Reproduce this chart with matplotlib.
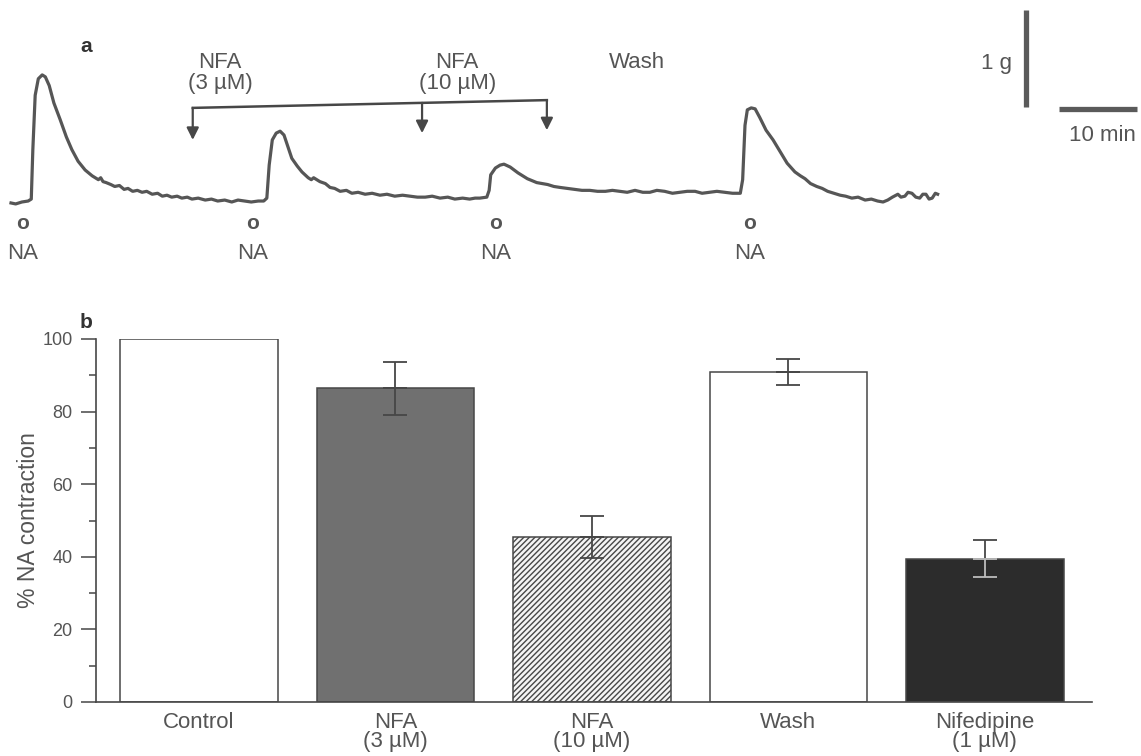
import matplotlib.pyplot as plt

plt.rcParams['font.family'] = ['Liberation Sans', 'DejaVu Sans']

# panel a: tension trace, time in min, tension above baseline in g
trace_t = [0.0, 0.6, 1.4, 2.2, 2.6, 2.8, 3.1, 3.5, 4.0, 4.4, 4.9, 5.5, 6.3, 7.1, 7.8, 8.6,
           9.5, 10.4, 11.2, 11.5, 11.8, 12.2, 12.8, 13.3, 13.9, 14.5, 15.0, 15.6, 16.2,
           16.8, 17.4, 18.1, 18.8, 19.4, 20.0, 20.6, 21.3, 21.9, 22.6, 23.2, 24.0, 24.9,
           25.7, 26.5, 27.4, 28.3, 29.1, 30.0, 30.8, 31.7, 32.4,
           32.8, 33.1, 33.5, 34.0, 34.5, 35.0, 35.5, 36.0, 36.7, 37.3, 38.1, 38.5, 38.8,
           39.6, 40.3, 40.9, 41.5, 42.2, 43.0, 43.7, 44.5, 45.4, 46.3, 47.3, 48.2, 49.2,
           50.2, 51.2, 52.1, 53.1, 54.0, 55.0, 56.0, 56.9, 57.9, 58.8, 59.5, 60.1, 61.0,
           61.3, 61.5, 62.1, 62.7, 63.2, 64.0, 65.0, 65.6, 66.2, 67.4, 68.1, 68.8, 69.6,
           70.4, 71.3, 72.3, 73.2, 74.2, 75.2, 76.2, 77.1, 78.1, 79.0, 80.0, 81.0, 81.9,
           82.8, 83.8, 84.8, 85.8, 86.7, 87.7, 88.6, 89.6, 90.5, 91.5, 92.5, 93.5,
           93.8, 94.1, 94.4, 94.9, 95.4, 96.0, 96.8, 97.7, 98.6, 99.5, 100.5, 101.2, 101.8,
           102.5, 103.3, 104.0, 104.7, 105.5, 106.3, 107.0, 107.8, 108.6, 109.5, 110.3,
           111.1, 111.8, 112.4, 113.0, 113.7, 114.1, 114.6, 115.0, 115.5, 116.0, 116.5,
           116.9, 117.3, 117.7, 118.1, 118.5, 118.8]
trace_g = [-0.01, -0.02, 0.00, 0.01, 0.03, 0.54, 1.10, 1.27, 1.31, 1.29, 1.20, 1.02, 0.85,
           0.67, 0.54, 0.42, 0.33, 0.27, 0.23, 0.25, 0.21, 0.20, 0.18, 0.16, 0.17, 0.13,
           0.14, 0.11, 0.12, 0.10, 0.11, 0.08, 0.09, 0.06, 0.07, 0.05, 0.06, 0.04, 0.05,
           0.03, 0.04, 0.02, 0.03, 0.01, 0.02, 0.00, 0.02, 0.01, 0.00, 0.01, 0.01,
           0.04, 0.38, 0.64, 0.71, 0.73, 0.69, 0.57, 0.45, 0.37, 0.31, 0.25, 0.23, 0.25,
           0.21, 0.19, 0.15, 0.14, 0.11, 0.12, 0.09, 0.10, 0.08, 0.09, 0.07, 0.08, 0.06,
           0.07, 0.06, 0.05, 0.05, 0.06, 0.04, 0.05, 0.03, 0.04, 0.03, 0.04, 0.04, 0.05,
           0.12, 0.28, 0.35, 0.38, 0.39, 0.36, 0.30, 0.27, 0.24, 0.20, 0.19, 0.18, 0.16,
           0.15, 0.14, 0.13, 0.12, 0.12, 0.11, 0.11, 0.12, 0.11, 0.10, 0.12, 0.10, 0.10,
           0.12, 0.11, 0.09, 0.10, 0.11, 0.11, 0.09, 0.10, 0.11, 0.10, 0.09, 0.09,
           0.23, 0.79, 0.95, 0.97, 0.96, 0.87, 0.74, 0.64, 0.52, 0.40, 0.31, 0.27, 0.24,
           0.19, 0.16, 0.14, 0.11, 0.09, 0.07, 0.06, 0.04, 0.05, 0.02, 0.03,
           0.01, 0.00, 0.02, 0.05, 0.08, 0.05, 0.06, 0.10, 0.09, 0.05, 0.04,
           0.08, 0.08, 0.03, 0.04, 0.09, 0.08]
na_times = [1.5, 31.0, 62.1, 94.7]
drug_times = [23.3, 52.7, 68.7]
drug_names = ["NFA", "NFA", "Wash"]
drug_conc = ["(3 µM)", "(10 µM)", ""]
drug_label_t = [26.8, 57.2, 80.3]

# panel b: % of NA contraction, mean and s.e.mean
conditions = ["Control", "NFA\n(3 µM)", "NFA\n(10 µM)", "Wash", "Nifedipine\n(1 µM)"]
contraction = [100, 86.4, 45.5, 90.9, 39.5]
sem = [0, 7.2, 5.7, 3.7, 5.0]

text_col = '#555555'
line_col = '#474747'

fig = plt.figure(figsize=(11.41, 7.56), dpi=100)

# ---- panel a ----
ax_a = fig.add_axes([0, 1 - 280 / 756, 1, 280 / 756])
ax_a.set_xlim(-1.41, 144.87)
ax_a.set_ylim(-0.804, 2.082)
ax_a.axis('off')
ax_a.plot(trace_t, trace_g, color='#565656', lw=2.3, solid_joinstyle='round')

for t in na_times:
    ax_a.text(t, -0.22, 'o', ha='center', va='center', fontsize=15, fontweight='bold', color=text_col)
    ax_a.text(t, -0.53, 'NA', ha='center', va='center', fontsize=16, color=text_col)

# bracket with the drug arrows
ax_a.plot([drug_times[0], drug_times[-1]], [0.97, 1.05], color=line_col, lw=1.8)
tips = [0.64, 0.71, 0.74]
for t, tip in zip(drug_times, tips):
    top = 0.97 + 0.08 * (t - drug_times[0]) / (drug_times[-1] - drug_times[0])
    ax_a.annotate('', xy=(t, tip), xytext=(t, top),
                  arrowprops=dict(arrowstyle='-|>', color=line_col, lw=1.6,
                                  mutation_scale=18, shrinkA=0, shrinkB=0))
for t, name, conc in zip(drug_label_t, drug_names, drug_conc):
    ax_a.text(t, 1.44, name, ha='center', va='center', fontsize=16, color=text_col)
    ax_a.text(t, 1.22, conc, ha='center', va='center', fontsize=16, color=text_col)

ax_a.text(9.7, 1.60, 'a', ha='center', va='center', fontsize=15, fontweight='bold', color='#333333')

# scale bars
ax_a.plot([130.1, 130.1], [0.98, 1.98], color='#5a5a5a', lw=3.8, solid_capstyle='butt')
ax_a.plot([134.4, 144.4], [0.96, 0.96], color='#5a5a5a', lw=3.8, solid_capstyle='butt')
ax_a.text(128.3, 1.43, '1 g', ha='right', va='center', fontsize=16, color=text_col)
ax_a.text(139.9, 0.69, '10 min', ha='center', va='center', fontsize=16, color=text_col)

# ---- panel b ----
ax_b = fig.add_axes([96 / 1141, 54 / 756, 996 / 1141, 363 / 756])
x = list(range(len(conditions)))
faces = ['white', '#707070', '#f4f4f4', 'white', '#2c2c2c']
hatches = ['', '', '//////', '', '']
for i in x:
    ax_b.bar(i, contraction[i], width=0.8, color=faces[i], edgecolor=line_col,
             hatch=hatches[i], linewidth=1.1, zorder=2)

# error bars (lower half drawn light on the dark bar)
low_cols = [line_col, line_col, line_col, line_col, '#bdbdbd']
for i in x:
    if sem[i] == 0:
        continue
    ax_b.errorbar(i, contraction[i], yerr=[[0], [sem[i]]], color=line_col,
                  capsize=8.5, elinewidth=1.3, capthick=1.3, zorder=3)
    ax_b.errorbar(i, contraction[i], yerr=[[sem[i]], [0]], color=low_cols[i],
                  capsize=8.5, elinewidth=1.3, capthick=1.3, zorder=3)

ax_b.set_xlim(-0.524, 4.545)
ax_b.set_ylim(0, 100)
ax_b.spines['top'].set_visible(False)
ax_b.spines['right'].set_visible(False)
for s in ['left', 'bottom']:
    ax_b.spines[s].set_color(line_col)
    ax_b.spines[s].set_linewidth(1.2)
ax_b.set_yticks([0, 20, 40, 60, 80, 100])
ax_b.set_yticks([10, 30, 50, 70, 90], minor=True)
ax_b.tick_params(axis='y', which='major', length=11, width=1.1, color=line_col,
                 labelsize=13, labelcolor=text_col, pad=6)
ax_b.tick_params(axis='y', which='minor', length=5, width=1.1, color=line_col)
ax_b.set_xticks(x)
ax_b.set_xticklabels(conditions, linespacing=0.9)
ax_b.tick_params(axis='x', length=0, labelsize=16, labelcolor=text_col, pad=7)
ax_b.set_ylabel('% NA contraction', fontsize=16.5, color=text_col)
ax_b.yaxis.set_label_coords(-0.056, 0.5)

fig.text(86 / 1141, 1 - 323 / 756, 'b', ha='center', va='center', fontsize=15,
         fontweight='bold', color='#333333')

fig.savefig('out.png', dpi=100)
